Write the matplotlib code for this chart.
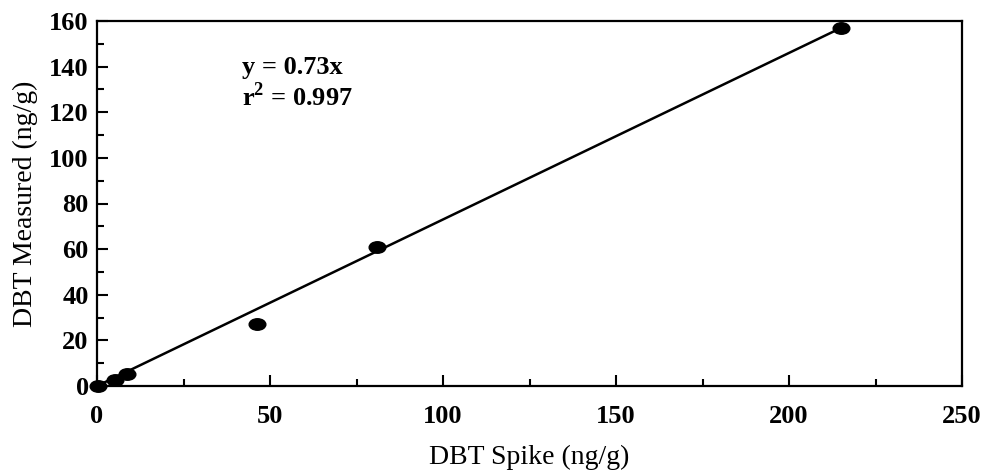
import numpy as np
import matplotlib.pyplot as plt
from matplotlib.path import Path
from matplotlib.ticker import MultipleLocator
import matplotlib.transforms as mtransforms

# Data
spike = [0.3, 5.2, 8.7, 46.2, 81.0, 215.0]
measured = [0.0, 2.6, 5.3, 27.2, 61.0, 157.0]
slope = 0.73
fit_x = [0, 215]
eq_text = 'y = 0.73x\nr$^2$ = 0.997'

plt.rcParams['font.family'] = ['Liberation Serif', 'DejaVu Serif']
plt.rcParams['mathtext.fontset'] = 'custom'
plt.rcParams['mathtext.rm'] = 'Liberation Serif:bold'

# Flattened ellipse marker, like the original dots
ellipse = Path.unit_circle().transformed(mtransforms.Affine2D().scale(1.45, 1.0))

fig = plt.figure(figsize=(9.85, 4.76), dpi=100)
ax = fig.add_axes([97 / 985, 90 / 476, 865 / 985, 365 / 476])

ax.plot(fit_x, [slope * v for v in fit_x], color='black', lw=1.8, zorder=2)
ax.plot(spike, measured, linestyle='none', marker=ellipse, markersize=12,
        color='black', zorder=3, clip_on=False)

ax.set_xlim(0, 250)
ax.set_ylim(0, 160)
ax.xaxis.set_major_locator(MultipleLocator(50))
ax.xaxis.set_minor_locator(MultipleLocator(25))
ax.yaxis.set_major_locator(MultipleLocator(20))
ax.yaxis.set_minor_locator(MultipleLocator(10))
ax.tick_params(which='both', direction='in', width=1.5, labelsize=19)
ax.tick_params(which='major', length=8)
ax.tick_params(which='minor', length=5)
ax.tick_params(axis='x', pad=14)
ax.tick_params(axis='y', pad=6)
for lab in ax.get_xticklabels() + ax.get_yticklabels():
    lab.set_fontweight('bold')
for sp in ax.spines.values():
    sp.set_linewidth(1.6)

ax.set_xlabel('DBT Spike (ng/g)', fontsize=20, labelpad=12)
ax.set_ylabel('DBT Measured (ng/g)', fontsize=20, labelpad=8)

ax.text(42, 123, eq_text, fontsize=19, fontweight='bold', va='baseline',
        linespacing=1.1)

fig.savefig('out.png', dpi=100)
